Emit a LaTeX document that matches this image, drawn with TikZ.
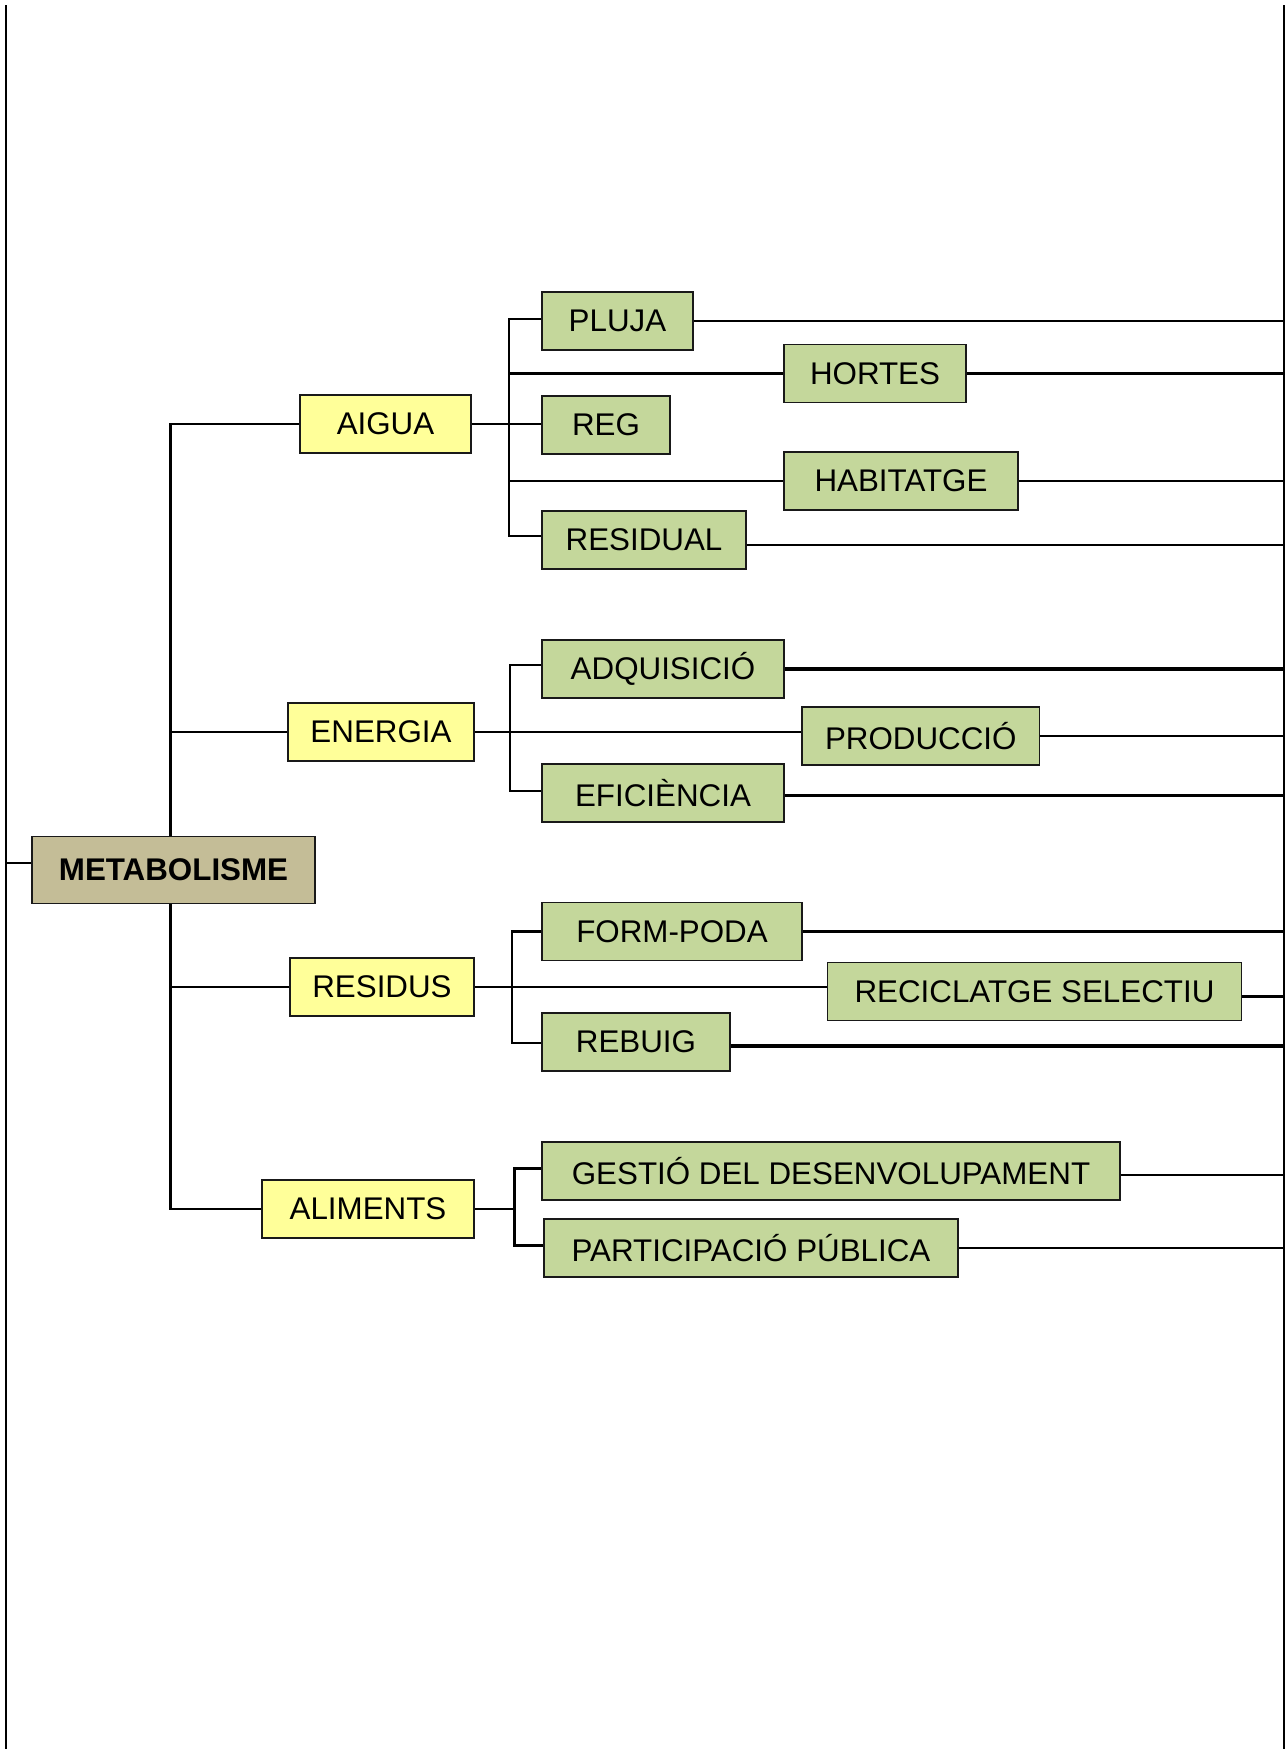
\documentclass[tikz,border=0pt]{standalone}
\usepackage{fontspec}
\setmainfont{Liberation Sans}
\definecolor{ylw}{HTML}{FFFF99}
\definecolor{grn}{HTML}{C4D79B}
\definecolor{tan}{HTML}{C4BD97}
\begin{document}
\begin{tikzpicture}[x=0.75pt,y=-0.75pt,
  base/.style={draw=black!90, line width=1.3pt, minimum height=58*0.75pt, inner sep=0pt,
     font=\fontsize{23.5}{28}\selectfont, text=black},
  bw/.style={minimum width=#1*0.75pt},
  topic/.style={base, fill=ylw},
  leaf/.style={base, fill=grn},
  rootbox/.style={base, fill=tan, minimum height=67*0.75pt, font=\fontsize{23.5}{28}\selectfont\bfseries},
  ln/.style={line width=1.6pt},
  lnk/.style={line width=2.3pt},
  edge/.style={line width=1.8pt}]
\useasboundingbox (0,0) rectangle (1286,1749);

% guide coordinates
\coordinate (lx) at (6,0);
\coordinate (rx) at (1284,0);
\coordinate (tk) at (170.5,0);
\coordinate (ba) at (509,0);
\coordinate (be) at (510,0);
\coordinate (br) at (512,0);
\coordinate (bl) at (514.5,0);
\coordinate (ltop) at (6,5);
\coordinate (lbot) at (6,1749);
\coordinate (rtop) at (1284,5);
\coordinate (rbot) at (1284,1749);

% nodes
\node[rootbox, bw=283] (metab) at (173.5,870) {METABOLISME};

\node[topic, bw=171] (aigua) at (385.5,424) {AIGUA};
\node[topic, bw=186] (energia) at (381,732) {ENERGIA};
\node[topic, bw=184] (residus) at (382,987) {RESIDUS};
\node[topic, bw=212] (aliments) at (368,1209) {ALIMENTS};

\node[leaf, bw=151] (pluja) at (617.5,321) {PLUJA};
\node[leaf, bw=182] (hortes) at (875,373.5) {HORTES};
\node[leaf, bw=128] (reg) at (606,425) {REG};
\node[leaf, bw=234] (habitatge) at (901,481) {HABITATGE};
\node[leaf, bw=204] (residual) at (644,540) {RESIDUAL};

\node[leaf, bw=242] (adq) at (663,669) {ADQUISICIÓ};
\node[leaf, bw=237.5] (produccio) at (920.75,736) {PRODUCCIÓ};
\node[leaf, bw=242] (efic) at (663,793) {EFICIÈNCIA};

\node[leaf, bw=260] (formpoda) at (672,931.5) {FORM-PODA};
\node[leaf, bw=414] (recicl) at (1034.5,991.5) {RECICLATGE SELECTIU};
\node[leaf, bw=188.5] (rebuig) at (636,1042) {REBUIG};

\node[leaf, bw=578] (gestio) at (831,1171) {GESTIÓ DEL DESENVOLUPAMENT};
\node[leaf, bw=414] (particip) at (751,1248) {PARTICIPACIÓ PÚBLICA};

% page edge lines
\draw[edge] (ltop) -- (lbot);
\draw[edge] (rtop) -- (rbot);

% root connections
\draw[ln] ([yshift=5.5pt]metab.west) -- ([yshift=5.5pt]metab.west -| lx);
\draw[edge] (aigua.west) -- (aigua.west -| tk) -- (metab.north -| tk);
\draw[edge] (metab.south -| tk) -- (aliments.west -| tk) -- (aliments.west);
\draw[ln] (energia.west -| tk) -- (energia.west);
\draw[ln] (residus.west -| tk) -- (residus.west);

% AIGUA group
\draw[ln] (aigua.east) -- (aigua.east -| reg.west);
\draw[ln] ([yshift=1.5pt]pluja.west) -- ([yshift=1.5pt]pluja.west -| ba) -- ([yshift=3pt]residual.west -| ba) -- ([yshift=3pt]residual.west);
\draw[lnk] (hortes.west -| ba) -- (hortes.west);
\draw[ln] (habitatge.west -| ba) -- (habitatge.west);
\draw[ln] (pluja.east) -- (pluja.east -| rx);
\draw[lnk] (hortes.east) -- (hortes.east -| rx);
\draw[ln] (habitatge.east) -- (habitatge.east -| rx);
\draw[ln] ([yshift=-4pt]residual.east) -- ([yshift=-4pt]residual.east -| rx);

% ENERGIA group
\draw[ln] (energia.east) -- (energia.east -| produccio.west);
\draw[ln] ([yshift=3pt]adq.west) -- ([yshift=3pt]adq.west -| be) -- ([yshift=1.5pt]efic.west -| be) -- ([yshift=1.5pt]efic.west);
\draw[lnk] (adq.east) -- (adq.east -| rx);
\draw[ln] (produccio.east) -- (produccio.east -| rx);
\draw[lnk] ([yshift=-2pt]efic.east) -- ([yshift=-2pt]efic.east -| rx);

% RESIDUS group
\draw[ln] (residus.east) -- (residus.east -| recicl.west);
\draw[ln] (formpoda.west) -- (formpoda.west -| br) -- ([yshift=-0.8pt]rebuig.west -| br) -- ([yshift=-0.8pt]rebuig.west);
\draw[ln] (formpoda.east) -- (formpoda.east -| rx);
\draw[lnk] ([yshift=-4pt]recicl.east) -- ([yshift=-4pt]recicl.east -| rx);
\draw[lnk] ([yshift=-3pt]rebuig.east) -- ([yshift=-3pt]rebuig.east -| rx);

% ALIMENTS group
\draw[ln] (aliments.east) -- (aliments.east -| bl);
\draw[lnk] ([yshift=2pt]gestio.west) -- ([yshift=2pt]gestio.west -| bl) -- ([yshift=2pt]particip.west -| bl) -- ([yshift=2pt]particip.west);
\draw[ln] ([yshift=-3pt]gestio.east) -- ([yshift=-3pt]gestio.east -| rx);
\draw[ln] (particip.east) -- (particip.east -| rx);
\end{tikzpicture}
\end{document}
